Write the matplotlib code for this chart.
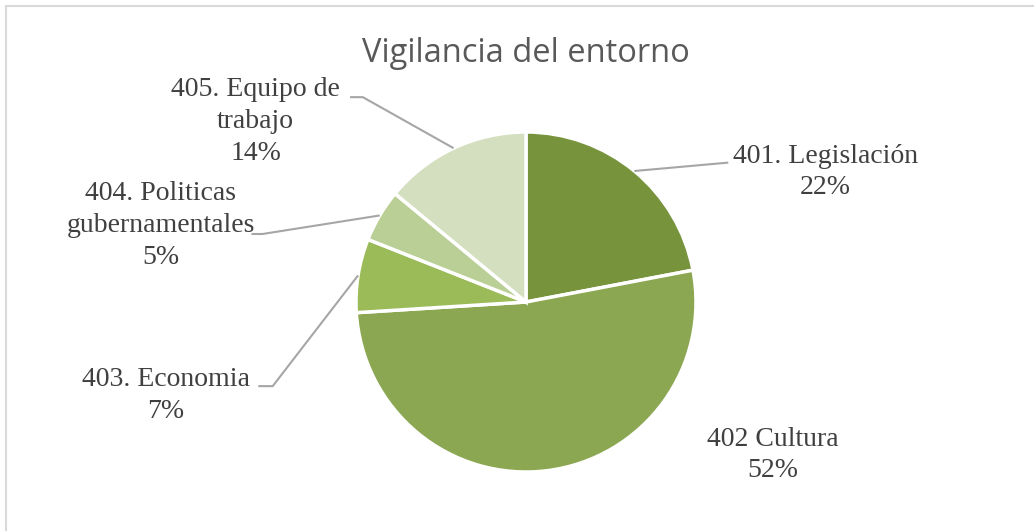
import numpy as np
import matplotlib
matplotlib.use("Agg")
import matplotlib.pyplot as plt
from matplotlib.patches import Rectangle

labels = ["401. Legislación", "402 Cultura", "403. Economia",
          "404. Politicas\ngubernamentales", "405. Equipo de\ntrabajo"]
values = [22, 52, 7, 5, 14]
colors = ["#77933C", "#8BA752", "#9BBB59", "#B9CF96", "#D3DFBF"]

# label anchor positions (in pie-radius units) and leader elbow points
label_pos = [(1.76, 0.765), (1.45, -0.90), (-2.12, -0.55), (-2.15, 0.45), (-1.59, 1.06)]
elbows = [[(1.19, 0.82)],
          None,
          [(-1.575, -0.495), (-1.49, -0.495)],
          [(-1.615, 0.40), (-1.55, 0.40)],
          [(-1.035, 1.205), (-0.96, 1.205)]]

W, H = 1034, 531
cx, cy, R = 526, 302, 170

fig = plt.figure(figsize=(W / 100, H / 100), dpi=100)
ax = fig.add_axes([0, 0, 1, 1])

wedges, _ = ax.pie(values, colors=colors, startangle=90, counterclock=False,
                   radius=1, center=(0, 0), frame=True,
                   wedgeprops=dict(edgecolor="white", linewidth=2.5))
ax.set_xlim(-cx / R, (W - cx) / R)
ax.set_ylim(-(H - cy) / R, cy / R)
ax.set_aspect("equal")
ax.axis("off")

total = sum(values)
start = 90
for i, v in enumerate(values):
    mid = np.deg2rad(start - v / total * 360 / 2)
    start -= v / total * 360
    px, py = np.cos(mid), np.sin(mid)
    tx, ty = label_pos[i]
    ax.text(tx, ty, f"{labels[i]}\n{v}%", ha="center", va="center",
            family="Liberation Serif", fontsize=20, color="#404040",
            linespacing=1.36)
    if elbows[i]:
        pts = elbows[i] + [(px, py)]
        xs, ys = zip(*pts)
        ax.plot(xs, ys, color="#A6A6A6", lw=1.5, solid_capstyle="butt")

fig.text(cx / W, 1 - 53 / H, "Vigilancia del entorno", ha="center", va="center",
         family="Open Sans", fontsize=23.5, color="#595959")

fig.patches.append(Rectangle((5.5 / W, -0.1), 1.2, (H - 5.5) / H + 0.1,
                             transform=fig.transFigure, fill=False,
                             edgecolor="#D9D9D9", lw=1.5))

fig.savefig("out.png", dpi=100, facecolor="white")
